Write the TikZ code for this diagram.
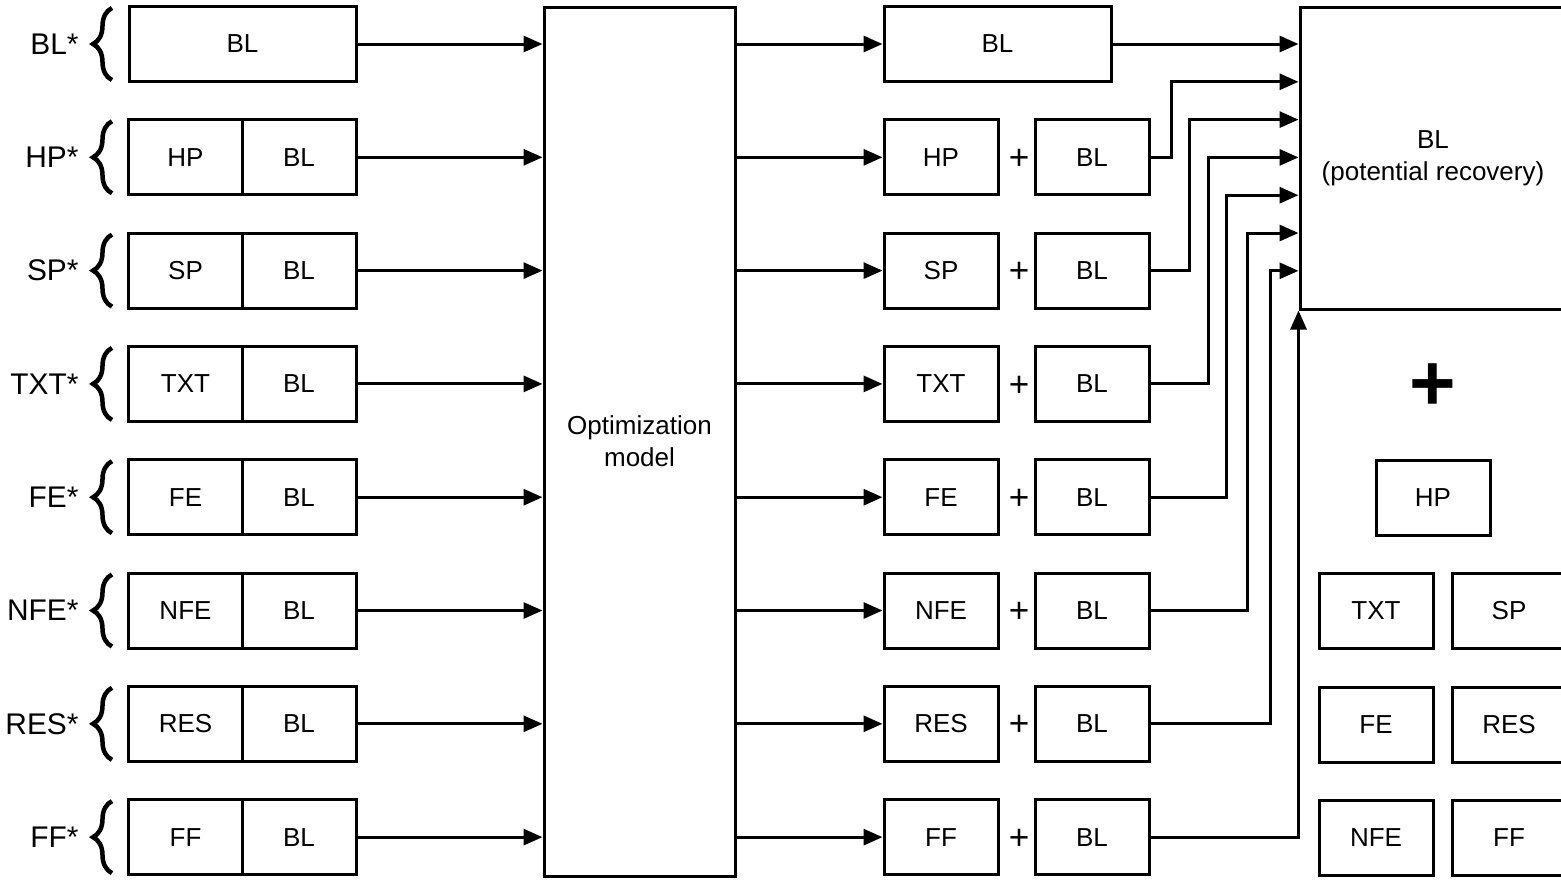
\documentclass[tikz,border=0pt]{standalone}
\usepackage{fontspec}
\setmainfont{Liberation Sans}
\usetikzlibrary{arrows.meta,positioning,calc,decorations.pathreplacing}

\begin{document}
\begin{tikzpicture}[x=0.1mm,y=-0.1mm,>={Triangle[length=1.9mm,width=1.6mm]},line width=0.3mm,font=\fontsize{7.4}{9.1}\selectfont]
\tikzstyle{cell}=[draw,minimum width=11.4mm,minimum height=7.5mm,inner sep=0pt]
\tikzstyle{wide}=[cell,minimum width=22.7mm]
\tikzstyle{tag}=[font=\fontsize{8.5}{10}\selectfont,anchor=east,inner sep=0pt]
\tikzstyle{brc}=[decorate,decoration={brace,amplitude=1.9mm},line width=0.45mm]
\tikzstyle{pl}=[font=\fontsize{10}{11}\selectfont,inner sep=0pt]
\path[use as bounding box,clip] (0,0) rectangle (1561,882);
% optimization model and recovery block
\node[draw,minimum width=19.1mm,minimum height=86.9mm,align=center] (opt) at (639.5,441.5) {Optimization\\model};
\node[draw,minimum width=26.6mm,minimum height=30.2mm,align=center] (rec) at (1433,158) {BL\\(potential recovery)};
% first row: baseline alone
\node[tag] (t0) at (80,44) {BL*};
\draw[brc] (112,80) -- (112,8);
\node[wide] (a0) at (242.5,44) {BL};
\node[wide] (m0) at (997.5,44) {BL};
\draw[->] (a0) -- (a0 -| opt.west);
\draw[->] (opt.east |- m0) -- (m0);
\draw[->] (m0) -- (m0 -| rec.west);
% other rows: feature + baseline
\foreach \r/\n in {1/HP,2/SP,3/TXT,4/FE,5/NFE,6/RES,7/FF} {
  \pgfmathsetmacro\y{44+113.3*\r}
  \node[tag] (t\r) at (80,\y) {\n*};
  \draw[brc] (112,\y+36) -- (112,\y-36);
  \node[cell] (a\r) at (185.5,\y) {\n};
  \node[cell] (b\r) at (299,\y) {BL};
  \node[cell] (m\r) at (941,\y) {\n};
  \node[pl] (p\r) at (1019,\y+2) {+};
  \node[cell] (n\r) at (1092,\y) {BL};
  \draw[->] (b\r) -- (b\r -| opt.west);
  \draw[->] (opt.east |- m\r) -- (m\r);
}
% feeds into the recovery block
\foreach \r/\dx in {1/21,2/39,3/58,4/76,5/97,6/120} {
  \pgfmathsetmacro\yf{44+37.8*\r}
  \coordinate (f\r) at (rec.west |- 0,\yf);
  \draw[->] (n\r.east) -- ++(\dx,0) |- (f\r);
}
\draw[->] (n7.east) -| (rec.south west);
% remaining features
\node[font=\fontsize{22.7}{27}\bfseries\selectfont,inner sep=0pt] (plus) at (1433,387) {+};
\foreach \n/\x/\y in {HP/1433/498,TXT/1376/611,SP/1509/611,FE/1376/725,RES/1509/725,NFE/1376/838,FF/1509/838}
  \node[cell] (s\n) at (\x,\y) {\n};
\end{tikzpicture}
\end{document}
